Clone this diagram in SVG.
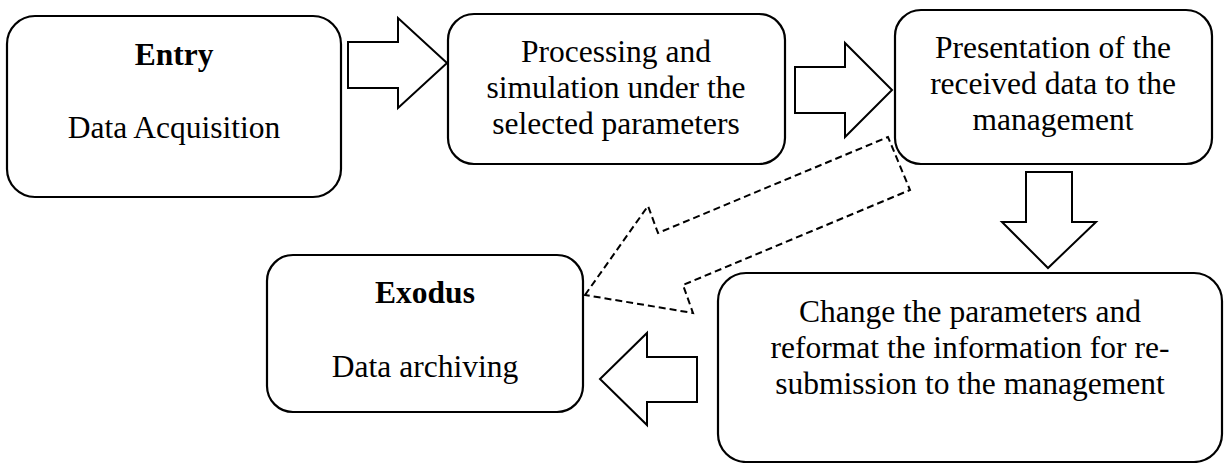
<svg xmlns="http://www.w3.org/2000/svg" width="1230" height="463" viewBox="0 0 1230 463">
  <style>
    .box { fill: #ffffff; stroke: #000000; stroke-width: 2.2; }
    .arrow { fill: #ffffff; stroke: #000000; stroke-width: 2; stroke-linejoin: miter; }
    .dashed { fill: none; stroke: #000000; stroke-width: 2; stroke-dasharray: 7 4; stroke-linejoin: miter; }
    text { font-family: "Liberation Serif", "Times New Roman", serif; font-size: 31.5px; fill: #000000; text-anchor: middle; }
    .title { font-weight: bold; }
  </style>

  <!-- connectors: block arrows between the stages -->
  <g id="connectors">
    <polygon class="arrow" points="348,42 398,42 398,18 447,63 398,108 398,88 348,88"/>
    <polygon class="arrow" points="795,67 845,67 845,43 892,90 845,137 845,113 795,113"/>
    <polygon class="arrow" points="1026,172 1072,172 1072,222 1096,222 1048,268 1002,222 1026,222"/>
    <polygon class="arrow" points="697,357 647,357 647,333 600,379 647,425 647,402 697,402"/>
    <polygon class="dashed" points="585,295 648,206 658,233 888,137 910,190 683,285 693,313"/>
  </g>

  <g id="entry">
    <rect class="box" x="7" y="16" width="334" height="181" rx="28" ry="28"/>
    <text class="title" x="174" y="65">Entry</text>
    <text x="174" y="138">Data Acquisition</text>
  </g>

  <g id="processing">
    <rect class="box" x="448" y="14" width="337" height="150" rx="26" ry="26"/>
    <text x="616" y="62">Processing and</text>
    <text x="616" y="98">simulation under the</text>
    <text x="616" y="134">selected parameters</text>
  </g>

  <g id="presentation">
    <rect class="box" x="895" y="10" width="317" height="154" rx="26" ry="26"/>
    <text x="1053" y="58">Presentation of the</text>
    <text x="1053" y="94">received data to the</text>
    <text x="1053" y="130">management</text>
  </g>

  <g id="change">
    <rect class="box" x="718" y="273" width="504" height="189" rx="28" ry="28"/>
    <text x="970" y="322">Change the parameters and</text>
    <text x="970" y="358">reformat the information for re-</text>
    <text x="970" y="394">submission to the management</text>
  </g>

  <g id="exodus">
    <rect class="box" x="267" y="255" width="316" height="157" rx="26" ry="26"/>
    <text class="title" x="425" y="303">Exodus</text>
    <text x="425" y="377">Data archiving</text>
  </g>
</svg>
